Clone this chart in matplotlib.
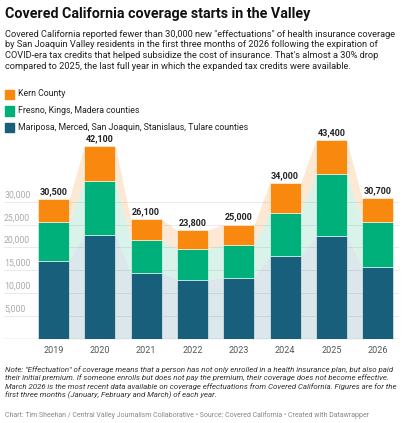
import matplotlib
matplotlib.use("Agg")
import matplotlib.pyplot as plt
import numpy as np

years = ["2019", "2020", "2021", "2022", "2023", "2024", "2025", "2026"]
mariposa = [17100, 22800, 14500, 12900, 13400, 18100, 22400, 15600]
fresno = [8400, 11800, 7200, 6700, 7200, 9500, 13700, 10000]
totals = [30500, 42100, 26100, 23800, 25000, 34000, 43400, 30700]
kern = [t - m - f for t, m, f in zip(totals, mariposa, fresno)]
labels = ["30,500", "42,100", "26,100", "23,800", "25,000", "34,000", "43,400", "30,700"]
yticks = [5000, 10000, 15000, 20000, 25000, 30000]
series = [("Kern County", "#f8890e"), ("Fresno, Kings, Madera counties", "#00b07a"),
          ("Mariposa, Merced, San Joaquin, Stanislaus, Tulare counties", "#175f7a")]

plt.rcParams["font.family"] = ["Roboto", "DejaVu Sans"]
fig = plt.figure(figsize=(4.05, 4.23), dpi=100)
ax = fig.add_axes([0.01, 0.199, 0.975, 0.508])
x = np.arange(len(years))
w = 0.67
c_k, c_f, c_m = series[0][1], series[1][1], series[2][1]
b1 = np.array(mariposa); b2 = b1 + np.array(fresno); b3 = b2 + np.array(kern)
xs = np.ravel([[i - w/2, i + w/2] for i in x])
rep = lambda a: np.repeat(a, 2)
ax.fill_between(xs, 0, rep(b1), color=c_m, alpha=0.15, lw=0, zorder=1)
ax.fill_between(xs, rep(b1), rep(b2), color=c_f, alpha=0.15, lw=0, zorder=1)
ax.fill_between(xs, rep(b2), rep(b3), color=c_k, alpha=0.18, lw=0, zorder=1)
ax.bar(x, mariposa, w, color=c_m, zorder=2, edgecolor="white", lw=0.4)
ax.bar(x, fresno, w, bottom=b1, color=c_f, zorder=2, edgecolor="white", lw=0.4)
ax.bar(x, kern, w, bottom=b2, color=c_k, zorder=2, edgecolor="white", lw=0.4)
for i, t in enumerate(totals):
    ax.text(i, t + 700, labels[i], ha="center", va="bottom", fontsize=6.5, fontweight="bold", color="#222")
ax.set_xlim(-1.07, 7.46)
ax.set_ylim(0, 47000)
for yv in yticks:
    ax.axhline(yv, color="#e6e6e6", lw=0.6, zorder=0)
    ax.text(-1.07, yv + 500, f"{yv:,}", fontsize=6.3, color="#aaa", va="bottom", ha="left")
ax.axhline(0, color="#444", lw=0.8, zorder=3)
ax.set_yticks([])
ax.set_xticks(x)
ax.set_xticklabels(years, fontsize=6.5, color="#555")
ax.tick_params(axis="x", length=0, pad=5)
for s in ax.spines.values():
    s.set_visible(False)

fig.text(0.012, 0.967, "Covered California coverage starts in the Valley", fontsize=10.3,
         fontweight="bold", color="#111", va="center")
sub = ("Covered California reported fewer than 30,000 new \"effectuations\" of health insurance coverage\n"
       "by San Joaquin Valley residents in the first three months of 2026 following the expiration of\n"
       "COVID-era tax credits that helped subsidize the cost of insurance. That's almost a 30% drop\n"
       "compared to 2025, the last full year in which the expanded tax credits were available.")
fig.text(0.012, 0.930, sub, fontsize=6.65, color="#222", va="top", linespacing=1.25)
for k, (name, col) in enumerate(series):
    yy = 1 - (94 + 16.5 * k) / 423
    fig.patches.append(plt.Rectangle((0.012, yy - 0.012), 0.022, 0.022, color=col, transform=fig.transFigure))
    fig.text(0.045, yy, name, fontsize=6.3, color="#222", va="center")
note = ("Note: \"Effectuation\" of coverage means that a person has not only enrolled in a health insurance plan, but also paid\n"
        "their initial premium. If someone enrolls but does not pay the premium, their coverage does not become effective.\n"
        "March 2026 is the most recent data available on coverage effectuations from Covered California. Figures are for the\n"
        "first three months (January, February and March) of each year.")
fig.text(0.012, 0.135, note, fontsize=5.7, style="italic", color="#333", va="top", linespacing=1.3)
fig.text(0.012, 0.018, "Chart: Tim Sheehan / Central Valley Journalism Collaborative • Source: Covered California • Created with Datawrapper",
         fontsize=5.0, color="#888", va="center")
fig.savefig("out.png", dpi=100)
